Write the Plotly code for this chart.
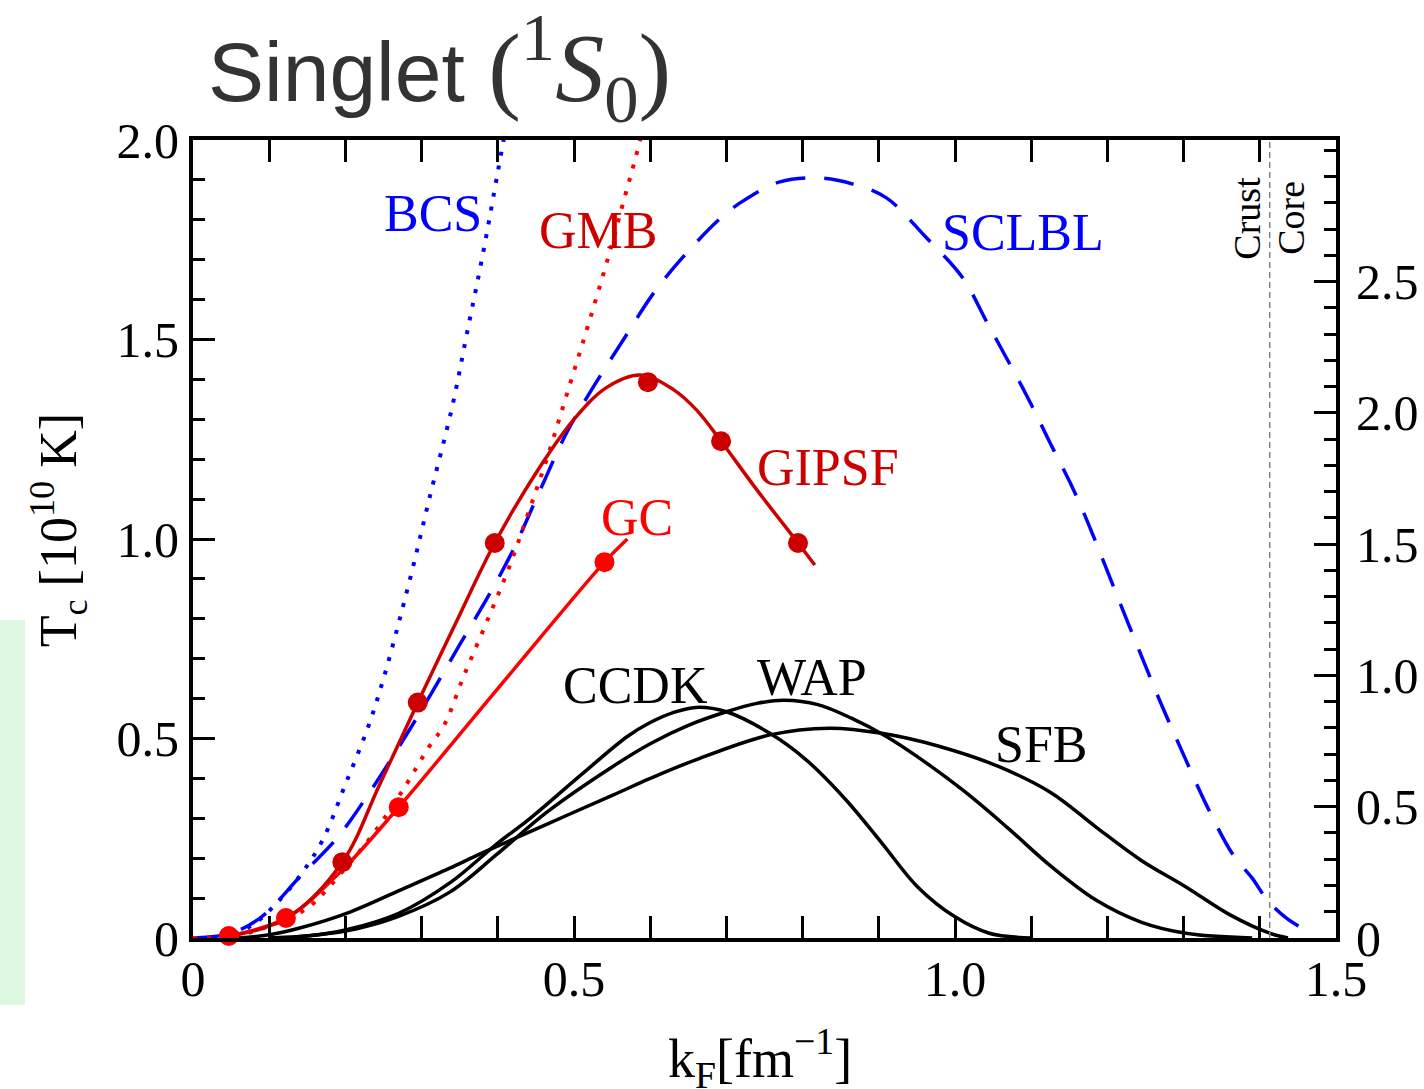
import plotly.graph_objects as go

# ---------------- data ----------------
bcs_k = [0.0, 0.05, 0.08, 0.11, 0.14, 0.17, 0.20, 0.23, 0.25, 0.27, 0.29, 0.31, 0.34, 0.36, 0.38, 0.40, 0.415]
bcs_tc = [0.0, 0.008, 0.035, 0.088, 0.155, 0.245, 0.385, 0.53, 0.65, 0.79, 0.94, 1.10, 1.33, 1.52, 1.71, 1.92, 2.08]

gmb_k = [0.0, 0.05, 0.10, 0.15, 0.20, 0.24, 0.28, 0.31, 0.33, 0.355, 0.385, 0.415, 0.44, 0.465, 0.495, 0.52, 0.547, 0.567, 0.58, 0.595]
gmb_tc = [0.0, 0.003, 0.03, 0.075, 0.175, 0.27, 0.385, 0.48, 0.535, 0.655, 0.79, 0.93, 1.065, 1.205, 1.39, 1.545, 1.72, 1.86, 1.95, 2.06]

sclbl_k = [0.0, 0.05, 0.09, 0.14, 0.19, 0.23, 0.29, 0.35, 0.39, 0.42, 0.455, 0.49, 0.525, 0.565, 0.604, 0.64,
           0.69, 0.72, 0.77, 0.82, 0.865, 0.91, 0.96, 1.01, 1.04, 1.06, 1.095, 1.125, 1.16, 1.227, 1.27, 1.30,
           1.33, 1.365, 1.39, 1.41, 1.435, 1.467]
sclbl_tc = [0.0, 0.012, 0.053, 0.153, 0.253, 0.36, 0.54, 0.735, 0.865, 0.972, 1.12, 1.265, 1.38, 1.50, 1.615, 1.70,
            1.80, 1.845, 1.895, 1.905, 1.89, 1.855, 1.76, 1.655, 1.55, 1.48, 1.356, 1.24, 1.105, 0.79, 0.589, 0.459,
            0.333, 0.208, 0.15, 0.095, 0.05, 0.012]

gipsf_k = [0.05, 0.123, 0.196, 0.245, 0.295, 0.345, 0.396, 0.455, 0.50, 0.543, 0.587, 0.63, 0.661, 0.693, 0.74, 0.794, 0.816]
gipsf_tc = [0.005, 0.05, 0.19, 0.385, 0.59, 0.79, 0.99, 1.18, 1.30, 1.38, 1.411, 1.375, 1.323, 1.245, 1.123, 0.99, 0.935]
gipsf_mk_k = [0.196, 0.295, 0.396, 0.597, 0.693, 0.794]
gipsf_mk_tc = [0.19, 0.59, 0.99, 1.393, 1.245, 0.99]

gc_k = [0.047, 0.122, 0.193, 0.27, 0.40, 0.54, 0.57]
gc_tc = [0.005, 0.05, 0.165, 0.328, 0.625, 0.942, 1.0]
gc_mk_k = [0.047, 0.122, 0.27, 0.54]
gc_mk_tc = [0.005, 0.05, 0.328, 0.942]

ccdk_k = [0.10, 0.15, 0.20, 0.27, 0.337, 0.40, 0.44, 0.51, 0.57, 0.60, 0.63, 0.66, 0.70, 0.757, 0.805, 0.857,
          0.904, 0.951, 1.0, 1.045, 1.10]
ccdk_tc = [0.0, 0.005, 0.02, 0.062, 0.138, 0.238, 0.296, 0.41, 0.505, 0.54, 0.565, 0.578, 0.567, 0.513, 0.446,
           0.346, 0.238, 0.128, 0.053, 0.012, 0.0]

wap_k = [0.10, 0.136, 0.202, 0.268, 0.337, 0.399, 0.464, 0.551, 0.60, 0.65, 0.70, 0.74, 0.776, 0.82, 0.864,
         0.911, 0.951, 1.01, 1.068, 1.127, 1.185, 1.244, 1.303, 1.39]
wap_tc = [0.0, 0.003, 0.018, 0.053, 0.115, 0.21, 0.315, 0.43, 0.487, 0.533, 0.567, 0.588, 0.596, 0.585, 0.551,
          0.504, 0.454, 0.371, 0.278, 0.178, 0.095, 0.04, 0.012, 0.0]

sfb_k = [0.06, 0.10, 0.14, 0.206, 0.272, 0.337, 0.376, 0.464, 0.551, 0.60, 0.659, 0.757, 0.835, 0.904, 0.98,
         1.057, 1.127, 1.185, 1.244, 1.303, 1.361, 1.413, 1.437]
sfb_tc = [0.0, 0.008, 0.025, 0.065, 0.12, 0.175, 0.21, 0.285, 0.358, 0.40, 0.446, 0.509, 0.526, 0.513, 0.48,
          0.43, 0.363, 0.278, 0.195, 0.128, 0.058, 0.012, 0.0]

crust_core_k = 1.413

x_ticks = [0, 0.5, 1.0, 1.5]
x_ticktext = ["0", "0.5", "1.0", "1.5"]
y_ticks = [0, 0.5, 1.0, 1.5, 2.0]
y_ticktext = ["0", "0.5", "1.0", "1.5", "2.0"]
y2_ticks = [0, 0.5, 1.0, 1.5, 2.0, 2.5]
y2_ticktext = ["0", "0.5", "1.0", "1.5", "2.0", "2.5"]
y2_max = 2.0 / 0.658  # gap scale [MeV] corresponding to Tc = 2.0e10 K

labels = ["BCS", "GMB", "SCLBL", "GIPSF", "GC", "CCDK", "WAP", "SFB"]
label_k = [0.315, 0.531, 1.089, 0.833, 0.583, 0.581, 0.812, 1.114]
label_tc = [1.817, 1.774, 1.767, 1.18, 1.053, 0.632, 0.654, 0.484]
label_col = ["#0000ff", "#cc0000", "#0000ff", "#cc0000", "#ff0000", "#000000", "#000000", "#000000"]

SERIF = "Liberation Serif, Times New Roman, serif"
SANS = "Liberation Sans, Arial, sans-serif"
DARKRED = "#cc0000"
RED = "#ff0000"
BLUE = "#0000ff"

fig = go.Figure()

def line(x, y, color, width=3.5, dash="solid", shape="spline"):
    fig.add_trace(go.Scatter(x=x, y=y, mode="lines", line=dict(color=color, width=width, dash=dash,
                                                               shape=shape, smoothing=1.0),
                             showlegend=False, hoverinfo="skip"))

line(bcs_k, bcs_tc, BLUE, 4, "4px,10px")
line(sclbl_k, sclbl_tc, BLUE, 3.5, "30px,19px")
line(gmb_k, gmb_tc, RED, 4, "4px,10px")
line(ccdk_k, ccdk_tc, "black", 3.5)
line(wap_k, wap_tc, "black", 3.5)
line(sfb_k, sfb_tc, "black", 3.5)
line(gc_k, gc_tc, RED, 3.5)
line(gipsf_k, gipsf_tc, DARKRED, 3.5)

fig.add_trace(go.Scatter(x=gc_mk_k, y=gc_mk_tc, mode="markers", marker=dict(color=RED, size=20),
                         showlegend=False, hoverinfo="skip", cliponaxis=False))
fig.add_trace(go.Scatter(x=gipsf_mk_k, y=gipsf_mk_tc, mode="markers", marker=dict(color=DARKRED, size=20),
                         showlegend=False, hoverinfo="skip", cliponaxis=False))

# crust-core boundary
fig.add_trace(go.Scatter(x=[crust_core_k, crust_core_k], y=[0, 2.0], mode="lines",
                         line=dict(color="#808080", width=1.5, dash="6px,4px"),
                         showlegend=False, hoverinfo="skip"))

# invisible trace for right axis
fig.add_trace(go.Scatter(x=[0], y=[0], yaxis="y2", mode="markers", marker=dict(opacity=0),
                         showlegend=False, hoverinfo="skip"))

for t, xk, yt, c in zip(labels, label_k, label_tc, label_col):
    fig.add_annotation(x=xk, y=yt, text=t, showarrow=False, font=dict(family=SERIF, size=52, color=c),
                       xanchor="center", yanchor="middle")

fig.add_annotation(x=1.383, y=1.805, text="Crust", textangle=-90, showarrow=False,
                   font=dict(family=SERIF, size=38, color="black"))
fig.add_annotation(x=1.441, y=1.805, text="Core", textangle=-90, showarrow=False,
                   font=dict(family=SERIF, size=38, color="black"))

# title
fig.add_annotation(xref="paper", yref="paper", x=0.011, y=1.09, xanchor="left", yanchor="middle",
                   showarrow=False,
                   text=('<span style="font-family:Liberation Sans;font-size:84px">Singlet </span>'
                         '(<sup>1</sup><i>S</i><sub>0</sub>)'),
                   font=dict(family=SERIF, size=98, color="#333333"))

# axis titles
fig.add_annotation(xref="paper", yref="paper", x=-0.118, y=0.511, xanchor="center", yanchor="middle",
                   textangle=-90, showarrow=False,
                   text="T<sub>c</sub> [10<sup>10</sup> K]", font=dict(family=SERIF, size=52, color="black"))
fig.add_annotation(xref="paper", yref="paper", x=0.496, y=-0.151, xanchor="center", yanchor="middle",
                   showarrow=False,
                   text="k<sub>F</sub>[fm<sup>\u22121</sup>]", font=dict(family=SERIF, size=54, color="black"))

# green strip at the left edge
fig.add_shape(type="rect", xref="paper", yref="paper", x0=-0.1689, x1=-0.147, y0=-0.084, y1=0.3985,
              fillcolor="#dcf8e0", line=dict(width=0), layer="below")

tickfont = dict(family=SERIF, size=50, color="black")
fig.update_layout(
    width=1424, height=1089,
    margin=dict(l=193, r=88, t=140, b=151, autoexpand=False),
    plot_bgcolor="white", paper_bgcolor="white",
    xaxis=dict(range=[0, 1.5], showgrid=False, zeroline=False, showline=True, linecolor="black", linewidth=4,
               mirror="allticks", ticks="inside", ticklen=22, tickwidth=3, tickcolor="black", automargin=False,
               tickvals=x_ticks, ticktext=x_ticktext, tickfont=tickfont, ticklabelstandoff=-6,
               minor=dict(dtick=0.1, tick0=0, ticks="inside", ticklen=12, tickwidth=3, tickcolor="black",
                          showgrid=False)),
    yaxis=dict(range=[0, 2.0], showgrid=False, zeroline=False, showline=True, linecolor="black", linewidth=4,
               ticks="inside", ticklen=22, tickwidth=3, tickcolor="black", automargin=False,
               tickvals=y_ticks, ticktext=y_ticktext, tickfont=tickfont, ticklabelstandoff=0,
               minor=dict(dtick=0.1, tick0=0, ticks="inside", ticklen=12, tickwidth=3, tickcolor="black",
                          showgrid=False)),
    yaxis2=dict(range=[0, y2_max], overlaying="y", side="right", anchor="x", showgrid=False, zeroline=False,
                showline=True, linecolor="black", linewidth=4, automargin=False,
                ticks="inside", ticklen=22, tickwidth=3, tickcolor="black",
                tickvals=y2_ticks, ticktext=y2_ticktext, tickfont=tickfont, ticklabelstandoff=6,
                minor=dict(dtick=0.1, tick0=0, ticks="inside", ticklen=12, tickwidth=3, tickcolor="black",
                           showgrid=False)),
)

fig.write_html("out.html", config={"displayModeBar": False},
               post_script="document.body.style.margin='0px';document.body.style.overflow='hidden';")
